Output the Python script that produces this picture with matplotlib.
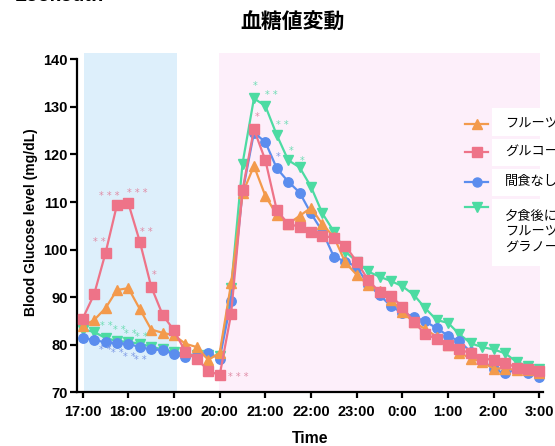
import numpy as np
import matplotlib
matplotlib.use("Agg")
import matplotlib.pyplot as plt
from matplotlib.patches import Rectangle

plt.rcParams['font.family'] = ['Liberation Sans', 'Noto Sans CJK JP', 'DejaVu Sans']

# hours after 17:00, one reading every 15 min (17:00 -> 3:00)
hours = np.arange(0, 10.01, 0.25)
tick_labels = ['17:00', '18:00', '19:00', '20:00', '21:00', '22:00',
               '23:00', '0:00', '1:00', '2:00', '3:00']

fruit = [83.9, 85.2, 87.7, 91.5, 91.9, 87.5, 83.2, 82.5, 82.0, 80.2, 79.5, 76.8, 78.3,
         92.9, 111.8, 117.6, 111.3, 107.3, 105.4, 107.1, 108.8, 105.3, 102.7,
         97.3, 94.7, 92.6, 91.4, 89.5, 86.8, 84.8, 83.3, 81.7, 79.9,
         78.3, 77.1, 76.4, 75.0, 75.0, 74.7, 74.6, 74.0]
glucose = [85.5, 90.6, 99.3, 109.4, 109.7, 101.7, 92.2, 86.3, 83.0, 78.5, 77.1, 74.5, 73.6,
           86.5, 112.5, 125.3, 118.8, 108.3, 105.4, 104.8, 103.6, 102.9, 102.5,
           100.8, 97.5, 93.6, 91.1, 90.2, 88.0, 84.8, 82.3, 81.2, 80.0,
           79.0, 78.2, 77.1, 76.8, 76.2, 75.2, 74.8, 74.5]
no_snack = [81.4, 81.0, 80.5, 80.3, 80.2, 79.5, 79.0, 78.9, 78.0, 77.4, 77.8, 78.2, 77.1,
            89.2, 112.0, 124.6, 122.6, 117.1, 114.3, 112.0, 107.6, 103.8, 98.5,
            97.5, 96.4, 92.6, 90.5, 88.1, 86.7, 85.9, 84.9, 83.5, 81.9,
            80.7, 78.5, 76.8, 74.8, 74.0, 74.8, 74.1, 73.2]
after_dinner = [83.2, 82.7, 81.4, 80.8, 80.6, 80.2, 79.6, 79.0, 78.5, 78.0, 77.8, 77.8, 77.6,
                92.0, 118.1, 131.8, 130.2, 124.1, 118.8, 117.3, 113.2, 107.6, 103.8,
                99.6, 97.5, 95.4, 94.3, 93.4, 92.3, 90.5, 87.7, 85.2, 84.6,
                82.2, 80.3, 79.5, 79.0, 78.2, 76.4, 75.5, 74.8]

labels = ['フルーツグラノーラ', 'グルコース', '間食なし', '夕食後に\nフルーツ\nグラノーラ']
colors = ['#F39A4C', '#EE7388', '#5B8DEE', '#4CDBA2']
star_colors = ['#F3B07A', '#E08CA6', '#7F9CE6', '#6FDDB5']
markers = ['^', 's', 'o', 'v']
series = [fruit, glucose, no_snack, after_dinner]

# significance marks: (hours, level, number of stars, series index)
stars = [(0.36, 101.6, 2, 1), (0.58, 111.3, 3, 1), (1.20, 112.0, 3, 1), (1.40, 103.8, 2, 1),
         (1.56, 94.7, 1, 1), (3.40, 73.2, 3, 1), (3.81, 127.9, 1, 1),
         (0.49, 78.9, 2, 2), (0.75, 78.2, 2, 2), (1.02, 77.4, 2, 2), (1.26, 76.7, 2, 2),
         (4.28, 119.4, 1, 2),
         (0.52, 83.9, 2, 3), (0.80, 83.2, 2, 3), (1.05, 82.3, 2, 3), (1.28, 81.6, 2, 3),
         (3.77, 134.5, 1, 3), (4.14, 132.5, 2, 3), (4.38, 126.2, 2, 3), (4.56, 120.7, 1, 3),
         (4.81, 118.7, 1, 3)]

W, H = 555, 446
fig = plt.figure(figsize=(W / 100, H / 100), dpi=100)
ax = fig.add_axes([77 / W, (H - 392.3) / H, (543 - 77) / W, (392.3 - 52.7) / H])
ax.set_xlim(-0.125, 10.08)
ax.set_ylim(70, 141.4)

# shaded periods
ax.axvspan(0.03, 2.06, color='#DDEFFB', zorder=0, lw=0)
ax.axvspan(2.99, 10.02, color='#FDEFFA', zorder=0, lw=0)

order = [3, 2, 0, 1]
for i in order:
    ax.plot(hours, series[i], color=colors[i], marker=markers[i], markersize=6.8,
            lw=1.6, zorder=3 + order.index(i), clip_on=False)

for t, yv, n, i in stars:
    ax.text(t, yv, ' '.join(['*'] * n), color=star_colors[i], fontsize=7,
            ha='center', va='center', family='DejaVu Sans', zorder=8)

for s in ['top', 'right']:
    ax.spines[s].set_visible(False)
ax.spines['left'].set_bounds(70, 140)
for s in ['left', 'bottom']:
    ax.spines[s].set_linewidth(1.6)
ax.set_yticks(np.arange(70, 141, 10))
ax.set_xticks(np.arange(0, 11, 1))
ax.set_xticklabels(tick_labels)
ax.tick_params(axis='y', length=5, width=1.6, pad=1.5, labelsize=10.5)
ax.tick_params(axis='x', length=4.5, width=1.6, pad=5, labelsize=10.5)
for lab in ax.get_xticklabels() + ax.get_yticklabels():
    lab.set_fontweight('bold')

ax.set_ylabel('Blood Glucose level (mg/dL)', fontsize=10, fontweight='bold')
ax.yaxis.set_label_coords(-0.084, 0.5)
ax.set_xlabel('Time', fontsize=11.3, fontweight='bold', va='top')
ax.xaxis.set_label_coords(0.5, -0.113)

fig.text(292.5 / W, 1 - 22 / H, '血糖値変動', ha='center', va='center', fontsize=15,
         family=['Noto Sans CJK JP'], fontweight='bold')
# heading above the chart, mostly cut off at the top edge
fig.text(15 / W, 1 - 1 / H, 'Lookout!!', ha='left', va='baseline', fontsize=14,
         fontweight='bold')

# legend drawn by hand, cut at the right edge like the reference
rows = [(108, 136, 124), (139, 166, 152), (169, 196, 182), (199, 266, 207)]
for i, (top, bot, hy) in enumerate(rows):
    fig.add_artist(Rectangle((492 / W, 1 - bot / H), 80 / W, (bot - top) / H,
                             transform=fig.transFigure, facecolor='white', edgecolor='none'))
    fig.add_artist(plt.Line2D([465 / W, 476.5 / W, 488 / W], [1 - hy / H] * 3,
                              transform=fig.transFigure, color=colors[i], lw=1.6,
                              marker=markers[i], markersize=6.5, markevery=[1]))
    ty = 1 - (hy - 1) / H if i < 3 else 1 - 210 / H
    fig.text(505 / W, ty, labels[i], ha='left', va='center' if i < 3 else 'top',
             fontsize=9.5, family=['Noto Sans CJK JP'], linespacing=1.25)

fig.savefig('out.png', dpi=100)
